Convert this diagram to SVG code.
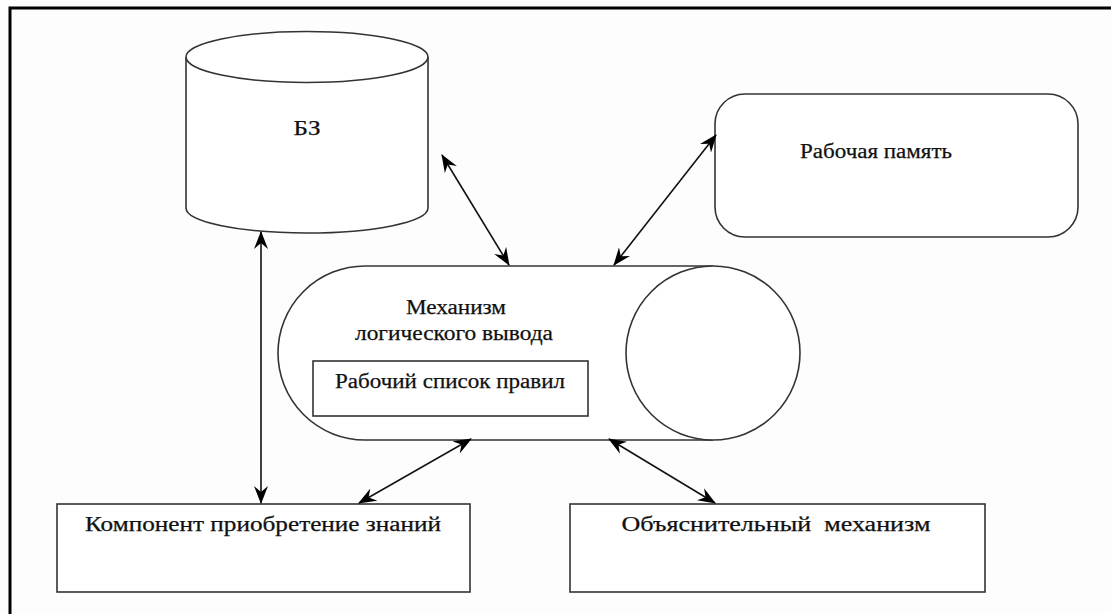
<svg xmlns="http://www.w3.org/2000/svg" width="1111" height="614" viewBox="0 0 1111 614">
  <style>
    .shape { fill: #ffffff; stroke: #333333; stroke-width: 1.6; }
    .conn { fill: none; stroke: #111111; stroke-width: 1.6; marker-start: url(#head); marker-end: url(#head); }
    .label { font-family: "Liberation Serif", "Times New Roman", serif; font-size: 20px; fill: #111111; text-anchor: middle; stroke: #111111; stroke-width: 0.25; }
  </style>
  <defs>
    <marker id="head" viewBox="0 0 18 14" refX="17" refY="7" markerWidth="18" markerHeight="14" markerUnits="userSpaceOnUse" orient="auto-start-reverse">
      <path d="M0,0 L18,7 L0,14 L6,7 z" fill="#000000"/>
    </marker>
  </defs>
  <rect x="0" y="0" width="1111" height="614" fill="#fdfdfd"/>
  <rect x="10" y="8" width="1130" height="640" fill="none" stroke="#000000" stroke-width="3"/>

  <g id="node-bz">
    <path class="shape" d="M186,57 L186,208 A121,25 0 0 0 428,208 L428,57"/>
    <ellipse class="shape" cx="307" cy="57" rx="121" ry="25.5"/>
    <text class="label" x="307" y="135" textLength="27" lengthAdjust="spacingAndGlyphs">БЗ</text>
  </g>

  <g id="node-work-memory">
    <rect class="shape" x="715" y="94" width="363" height="143" rx="30" ry="30"/>
    <text class="label" x="876" y="158" textLength="152" lengthAdjust="spacingAndGlyphs">Рабочая память</text>
  </g>

  <g id="node-inference">
    <path class="shape" d="M713,266 H365 A87,87 0 0 0 365,440 H713"/>
    <circle class="shape" cx="713" cy="353" r="87"/>
    <text class="label" x="456" y="314" textLength="100" lengthAdjust="spacingAndGlyphs">Механизм</text>
    <text class="label" x="454" y="340" textLength="198" lengthAdjust="spacingAndGlyphs">логического вывода</text>
  </g>

  <g id="node-rule-list">
    <rect class="shape" x="313" y="361" width="275" height="55"/>
    <text class="label" x="450" y="388" textLength="230" lengthAdjust="spacingAndGlyphs">Рабочий список правил</text>
  </g>

  <g id="node-acquisition">
    <rect class="shape" x="57" y="504" width="413" height="88"/>
    <text class="label" x="263" y="531" textLength="356" lengthAdjust="spacingAndGlyphs">Компонент приобретение знаний</text>
  </g>

  <g id="node-explanation">
    <rect class="shape" x="570" y="504" width="415" height="88"/>
    <text class="label" x="776" y="531" textLength="309" lengthAdjust="spacingAndGlyphs" xml:space="preserve">Объяснительный  механизм</text>
  </g>

  <g id="connectors">
    <line class="conn" x1="261" y1="232" x2="261" y2="503"/>
    <line class="conn" x1="442" y1="155" x2="509" y2="265"/>
    <line class="conn" x1="716" y1="135" x2="614" y2="265"/>
    <line class="conn" x1="471" y1="439" x2="359" y2="503"/>
    <line class="conn" x1="609" y1="439" x2="715" y2="503"/>
  </g>
</svg>
